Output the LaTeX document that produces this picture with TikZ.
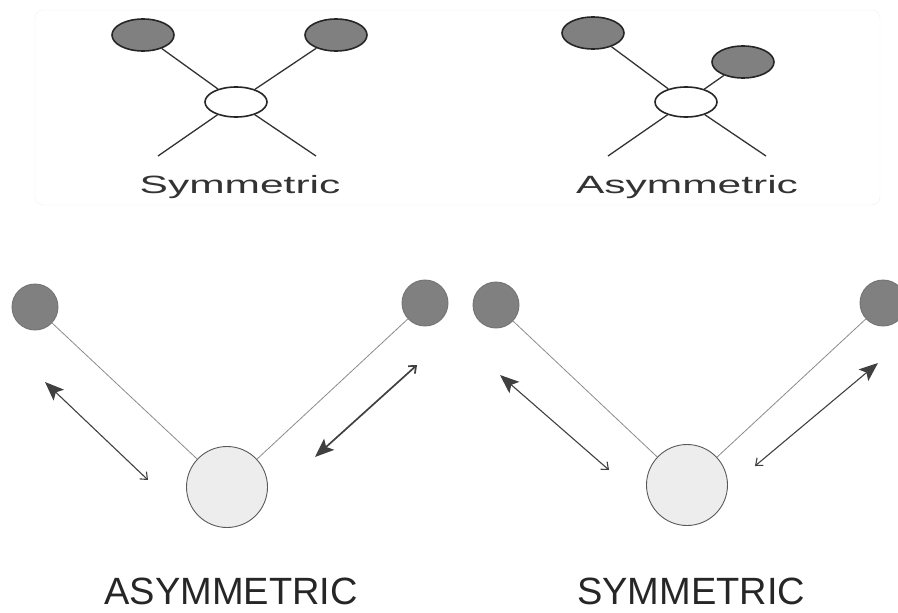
\documentclass[tikz,border=0pt]{standalone}
\usepackage{fontspec}
\setmainfont{Liberation Sans}
\newfontfamily\widefont[FakeStretch=1.7]{Liberation Sans}
\usetikzlibrary{shapes.geometric,arrows.meta}

\tikzset{
    bead/.style={ellipse, draw=black!85, line width=1.6pt, fill=black!50, minimum width=62pt, minimum height=32pt, inner sep=0pt},
    hub/.style={ellipse, draw=black!85, line width=1.6pt, fill=white, minimum width=62pt, minimum height=30pt, inner sep=0pt},
    leg/.style={draw=black!80, line width=1.3pt},
    atom/.style={circle, draw=black!55, line width=0.9pt, fill=black!50, minimum size=46pt, inner sep=0pt},
    core/.style={circle, draw=black!65, line width=0.9pt, fill=black!7, minimum size=81pt, inner sep=0pt},
    bond/.style={draw=black!45, line width=0.8pt},
    stretch/.style={draw=black!75, line width=1.1pt},
    toplabel/.style={anchor=base, text=black!80, font=\widefont\fontsize{25}{25}\selectfont},
    biglabel/.style={anchor=base, text=black!85, font=\fontsize{38}{38}\selectfont},
    bighead/.tip={Stealth[length=19pt, width=15pt, inset=4pt]},
    barbhead/.tip={Straight Barb[length=6pt, width=10pt]}
}

\begin{document}
\begin{tikzpicture}[x=1pt, y=-1pt]
    \useasboundingbox (0,0) rectangle (898,613);
    \draw[black!6, rounded corners=8pt] (35,10) rectangle (880,205);

    % top: Symmetric
    \node[bead] (sa) at (143,35) {};
    \node[bead] (sb) at (336,35) {};
    \node[hub] (sh) at (236,102) {};
    \coordinate (sc) at (158,156);
    \coordinate (sd) at (316,156);
    \draw[leg] (sa) -- (sh);
    \draw[leg] (sb) -- (sh);
    \draw[leg] (sh) -- (sc);
    \draw[leg] (sh) -- (sd);
    \node[toplabel] (slab) at (240,193) {Symmetric};

    % top: Asymmetric
    \node[bead] (aa) at (593,33) {};
    \node[bead] (ab) at (743,62) {};
    \node[hub] (ah) at (686,102) {};
    \coordinate (ac) at (608,156);
    \coordinate (ad) at (766,156);
    \draw[leg] (aa) -- (ah);
    \draw[leg] (ab) -- (ah);
    \draw[leg] (ah) -- (ac);
    \draw[leg] (ah) -- (ad);
    \node[toplabel] (alab) at (687,193) {Asymmetric};

    % bottom: ASYMMETRIC
    \node[atom] (la) at (35,307) {};
    \node[atom] (lb) at (425,303) {};
    \node[core] (lc) at (227,487) {};
    \draw[bond] (la) -- (lc);
    \draw[bond] (lb) -- (lc);
    \coordinate (lp) at (45,382);
    \coordinate (lq) at (148,480);
    \coordinate (lr) at (417,365);
    \coordinate (ls) at (315,457);
    \draw[stretch, bighead-barbhead] (lp) -- (lq);
    \draw[stretch, line width=1.7pt, barbhead-bighead] (lr) -- (ls);
    \node[biglabel] (llab) at (231,604) {ASYMMETRIC};

    % bottom: SYMMETRIC
    \node[atom] (ra) at (496,305) {};
    \node[atom] (rb) at (883,303) {};
    \node[core] (rc) at (687,485) {};
    \draw[bond] (ra) -- (rc);
    \draw[bond] (rb) -- (rc);
    \coordinate (rp) at (500,375);
    \coordinate (rq) at (609,470);
    \coordinate (rr) at (878,363);
    \coordinate (rs) at (755,466);
    \draw[stretch, bighead-barbhead] (rp) -- (rq);
    \draw[stretch, bighead-barbhead] (rr) -- (rs);
    \node[biglabel] (rlab) at (691,604) {SYMMETRIC};
\end{tikzpicture}
\end{document}
